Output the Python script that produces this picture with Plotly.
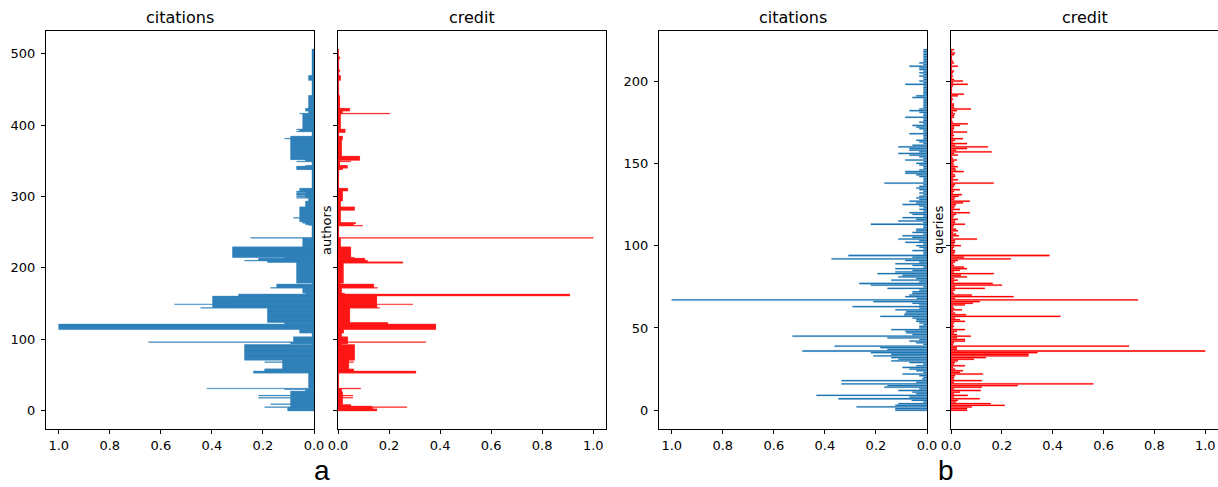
import numpy as np
import plotly.graph_objects as go

# ---------------- Panel a: authors (run-length encoded: run start index, value) ----------------
N_AUTHORS = 507
a_cit_start = [0, 5, 6, 9, 10, 18, 19, 21, 22, 28, 30, 31, 32, 53, 56, 59, 68, 69, 71, 93, 94, 96, 97,
               104, 109, 114, 122, 124, 144, 145, 149, 150, 161, 164, 165, 172, 173, 178, 179, 208, 210,
               211, 214, 215, 230, 242, 243, 260, 261, 263, 265, 270, 271, 286, 294, 298, 299, 300, 301,
               302, 305, 306, 308, 312, 338, 343, 344, 349, 350, 352, 381, 382, 385, 391, 392, 394, 395,
               416, 417, 420, 424, 442, 463, 470]
a_cit_value = [0.103, 0.193, 0.0915, 0.17, 0.0915, 0.217, 0.0915, 0.217, 0.0915, 0.033, 0.115, 0.42, 0.021,
               0.237, 0.193, 0.123, 0.193, 0.123, 0.272, 0.008, 0.0915, 0.648, 0.08,
               0.008, 0.056, 1.0, 0.115, 0.182, 0.444, 0.397, 0.546, 0.397, 0.295, 0.033, 0.044, 0.17,
               0.146, 0.008, 0.068, 0.182, 0.272,
               0.217, 0.115, 0.319, 0.044, 0.248, 0.008, 0.021, 0.033, 0.044, 0.056, 0.08, 0.056, 0.033,
               0.021, 0.068, 0.033, 0.068, 0.033,
               0.068, 0.033, 0.068, 0.056, 0.008, 0.068, 0.033, 0.008, 0.068, 0.033, 0.0915, 0.115,
               0.0915, 0.008, 0.068, 0.056, 0.068, 0.044,
               0.056, 0.021, 0.033, 0.021, 0.008, 0.021, 0.008]

a_cred_start = [0, 3, 5, 6, 7, 9, 18, 19, 21, 22, 27, 31, 32, 53, 56, 59, 68, 69, 71, 93, 94, 96, 97,
                104, 109, 114, 122, 124, 144, 145, 149, 150, 161, 164, 165, 172, 173, 178, 179, 207, 209,
                211, 214, 215, 230, 242, 243, 259, 260, 262, 264, 281, 286, 294, 308, 312, 338, 340, 344,
                349, 350, 351, 357, 380, 385, 390, 395, 416, 417, 420, 424, 442, 463, 470, 475, 478, 493, 496]
a_cred_value = [0.152, 0.136, 0.27, 0.132, 0.05, 0.018, 0.058, 0.018, 0.058, 0.018, 0.014, 0.089, 0.003,
                0.305, 0.061, 0.042, 0.061, 0.042, 0.065, 0.014, 0.038, 0.344, 0.038,
                0.014, 0.022, 0.383, 0.195, 0.046, 0.163, 0.152, 0.293, 0.152, 0.908, 0.026, 0.014, 0.155,
                0.14, 0.01, 0.021, 0.254, 0.116,
                0.105, 0.065, 0.05, 0.01, 1.0, 0.003, 0.097, 0.06, 0.069, 0.01, 0.065, 0.01, 0.018, 0.038,
                0.003, 0.018, 0.037, 0.007,
                0.05, 0.007, 0.085, 0.014, 0.018, 0.003, 0.028, 0.01, 0.203, 0.017, 0.046, 0.007, 0.003,
                0.01, 0.003, 0.007, 0.003, 0.007, 0.002]

# ---------------- Panel b: queries (one value per query, index 0..219) ----------------
b_citations = [
    0.124, 0.124, 0.276, 0.124, 0.112, 0.014, 0.06, 0.347, 0.069, 0.433,
    0.042, 0.057, 0.112, 0.03, 0.167, 0.155, 0.335, 0.042, 0.335, 0.02,
    0.014, 0.03, 0.096, 0.014, 0.042, 0.069, 0.096, 0.042, 0.014, 0.069,
    0.14, 0.112, 0.14, 0.21, 0.14, 0.22, 0.488, 0.155, 0.183, 0.362,
    0.014, 0.042, 0.069, 0.03, 0.155, 0.527, 0.057, 0.081, 0.085, 0.14,
    0.03, 0.03, 0.014, 0.03, 0.042, 0.042, 0.057, 0.183, 0.09, 0.085,
    0.081, 0.124, 0.03, 0.292, 0.03, 0.057, 0.21, 1.0, 0.04, 0.085,
    0.069, 0.057, 0.057, 0.03, 0.155, 0.014, 0.22, 0.265, 0.03, 0.14,
    0.042, 0.112, 0.096, 0.194, 0.124, 0.057, 0.124, 0.014, 0.057, 0.124,
    0.03, 0.085, 0.374, 0.057, 0.308, 0.014, 0.014, 0.057, 0.014, 0.03,
    0.042, 0.014, 0.085, 0.03, 0.112, 0.057, 0.096, 0.014, 0.057, 0.042,
    0.042, 0.014, 0.014, 0.22, 0.014, 0.112, 0.042, 0.096, 0.014, 0.057,
    0.069, 0.014, 0.03, 0.014, 0.03, 0.096, 0.042, 0.069, 0.03, 0.042,
    0.03, 0.014, 0.03, 0.014, 0.03, 0.042, 0.03, 0.014, 0.167, 0.014,
    0.014, 0.014, 0.03, 0.042, 0.085, 0.085, 0.03, 0.014, 0.014, 0.03,
    0.042, 0.014, 0.085, 0.014, 0.03, 0.069, 0.112, 0.03, 0.069, 0.069,
    0.112, 0.057, 0.014, 0.03, 0.042, 0.014, 0.014, 0.014, 0.069, 0.014,
    0.014, 0.03, 0.042, 0.057, 0.014, 0.03, 0.014, 0.014, 0.085, 0.014,
    0.014, 0.03, 0.069, 0.03, 0.014, 0.014, 0.014, 0.014, 0.014, 0.014,
    0.057, 0.042, 0.014, 0.014, 0.014, 0.014, 0.014, 0.014, 0.085, 0.014,
    0.03, 0.014, 0.014, 0.03, 0.014, 0.03, 0.014, 0.03, 0.03, 0.069,
    0.014, 0.03, 0.014, 0.014, 0.014, 0.014, 0.014, 0.014, 0.014, 0.014,
]
b_credit = [
    0.063, 0.063, 0.082, 0.211, 0.156, 0.02, 0.027, 0.113, 0.012, 0.066,
    0.012, 0.035, 0.117, 0.012, 0.121, 0.262, 0.56, 0.012, 0.121, 0.012,
    0.012, 0.016, 0.125, 0.035, 0.047, 0.016, 0.008, 0.055, 0.012, 0.016,
    0.027, 0.09, 0.137, 0.305, 0.305, 0.34, 1.0, 0.023, 0.023, 0.70,
    0.008, 0.012, 0.055, 0.055, 0.023, 0.078, 0.023, 0.012, 0.023, 0.055,
    0.008, 0.012, 0.008, 0.012, 0.055, 0.035, 0.016, 0.43, 0.059, 0.016,
    0.008, 0.043, 0.012, 0.008, 0.055, 0.086, 0.113, 0.735, 0.016, 0.246,
    0.082, 0.012, 0.008, 0.016, 0.133, 0.016, 0.2, 0.164, 0.012, 0.027,
    0.012, 0.063, 0.039, 0.168, 0.012, 0.035, 0.063, 0.051, 0.012, 0.008,
    0.016, 0.027, 0.235, 0.051, 0.387, 0.012, 0.016, 0.016, 0.008, 0.012,
    0.039, 0.012, 0.016, 0.016, 0.102, 0.008, 0.031, 0.02, 0.008, 0.027,
    0.02, 0.008, 0.012, 0.055, 0.016, 0.016, 0.027, 0.008, 0.012, 0.02,
    0.074, 0.008, 0.035, 0.012, 0.016, 0.02, 0.047, 0.074, 0.012, 0.016,
    0.031, 0.043, 0.008, 0.012, 0.035, 0.008, 0.012, 0.016, 0.168, 0.008,
    0.027, 0.008, 0.016, 0.016, 0.008, 0.05, 0.02, 0.016, 0.027, 0.012,
    0.008, 0.012, 0.023, 0.008, 0.004, 0.027, 0.012, 0.16, 0.02, 0.063,
    0.145, 0.016, 0.063, 0.008, 0.016, 0.047, 0.008, 0.012, 0.008, 0.063,
    0.008, 0.012, 0.012, 0.035, 0.066, 0.008, 0.004, 0.004, 0.012, 0.012,
    0.016, 0.008, 0.023, 0.078, 0.012, 0.012, 0.012, 0.004, 0.004, 0.008,
    0.004, 0.027, 0.051, 0.004, 0.004, 0.004, 0.004, 0.008, 0.066, 0.008,
    0.047, 0.012, 0.004, 0.008, 0.004, 0.008, 0.012, 0.004, 0.004, 0.027,
    0.004, 0.012, 0.008, 0.004, 0.004, 0.004, 0.012, 0.016, 0.004, 0.012,
]

x_tick_vals = [0.0, 0.2, 0.4, 0.6, 0.8, 1.0]
x_tick_text = ["0.0", "0.2", "0.4", "0.6", "0.8", "1.0"]
a_y_ticks = [0, 100, 200, 300, 400, 500]
b_y_ticks = [0, 50, 100, 150, 200]
panel_titles = ["citations", "credit", "citations", "credit"]


def expand(starts, values, n):
    lengths = np.diff(np.array(starts + [n]))
    return np.repeat(np.array(values), lengths)


a_cit = expand(a_cit_start, a_cit_value, N_AUTHORS)
a_cred = expand(a_cred_start, a_cred_value, N_AUTHORS)
a_idx = np.arange(N_AUTHORS)
b_idx = np.arange(len(b_citations))

BLUE = "#1f77b4"
RED = "#ff0000"
FONT = "DejaVu Sans"

fig = go.Figure()


def add_bars(vals, idx, color, xa, ya, bw, lw):
    fig.add_trace(go.Bar(
        x=vals, y=idx, orientation="h", width=bw,
        marker=dict(color=color, line=dict(color=color, width=lw)),
        xaxis=xa, yaxis=ya, showlegend=False, hoverinfo="x+y",
    ))


add_bars(a_cit, a_idx, BLUE, "x", "y", 1.0, 0.3)
add_bars(a_cred, a_idx, RED, "x2", "y2", 1.0, 0.3)
add_bars(b_citations, b_idx, BLUE, "x3", "y3", 0.8, 0.2)
add_bars(b_credit, b_idx, RED, "x4", "y4", 0.8, 0.2)

W, H = 1218, 487
x_doms = [(46, 314), (338, 606), (659, 927), (951, 1218)]
y_dom = [(H - 429) / H, (H - 31) / H]

common_axis = dict(
    showline=True, mirror=True, linecolor="black", linewidth=1.2,
    ticks="outside", ticklen=4, tickwidth=1, tickcolor="black",
    showgrid=False, zeroline=False, automargin=False,
    tickfont=dict(family=FONT, size=13, color="black"),
)

a_yrange = [-25.74, N_AUTHORS - 1 + 0.4 + 25.34]
nb = len(b_citations)
b_span = (nb - 1) + 0.8
b_yrange = [-0.4 - 0.05 * b_span, nb - 1 + 0.4 + 0.05 * b_span]

layout = dict(
    width=W, height=H, margin=dict(l=0, r=0, t=0, b=0, autoexpand=False),
    plot_bgcolor="white", paper_bgcolor="white", barmode="overlay",
)
for k, (x0, x1) in enumerate(x_doms):
    xn = "xaxis" if k == 0 else f"xaxis{k + 1}"
    yn = "yaxis" if k == 0 else f"yaxis{k + 1}"
    reverse = k in (0, 2)
    layout[xn] = dict(
        common_axis, domain=[x0 / W, min(x1 / W, 1.0)],
        range=[1.05, 0] if reverse else [0, 1.05],
        tickvals=x_tick_vals, ticktext=x_tick_text, anchor="y" if k == 0 else f"y{k + 1}",
    )
    is_a = k < 2
    layout[yn] = dict(
        common_axis, domain=y_dom,
        range=a_yrange if is_a else b_yrange,
        tickvals=a_y_ticks if is_a else b_y_ticks,
        showticklabels=(k in (0, 2)), ticklabelstandoff=3,
        anchor="x" if k == 0 else f"x{k + 1}",
    )
fig.update_layout(**layout)

annotations = []
for k, (x0, x1) in enumerate(x_doms):
    annotations.append(dict(
        text=panel_titles[k], x=((x0 + min(x1, 1219)) / 2) / W, y=(H - 17) / H,
        xref="paper", yref="paper", showarrow=False, xanchor="center", yanchor="middle",
        font=dict(family=FONT, size=16, color="black"),
    ))
annotations.append(dict(text="authors", x=326 / W, y=(H - 230) / H, xref="paper", yref="paper",
                        showarrow=False, textangle=-90, xanchor="center", yanchor="middle",
                        font=dict(family=FONT, size=13, color="black")))
annotations.append(dict(text="queries", x=938 / W, y=(H - 230) / H, xref="paper", yref="paper",
                        showarrow=False, textangle=-90, xanchor="center", yanchor="middle",
                        font=dict(family=FONT, size=13, color="black")))
annotations.append(dict(text="a", x=322 / W, y=0, xref="paper", yref="paper",
                        showarrow=False, xanchor="center", yanchor="bottom", borderpad=0,
                        font=dict(family="Liberation Sans", size=28, color="black")))
annotations.append(dict(text="b", x=946 / W, y=0, xref="paper", yref="paper",
                        showarrow=False, xanchor="center", yanchor="bottom", borderpad=0,
                        font=dict(family="Liberation Sans", size=28, color="black")))
fig.update_layout(annotations=annotations)

fig.write_html(
    "out.html",
    config={"displayModeBar": False},
    post_script="document.body.style.margin='0';document.body.style.padding='0';document.body.style.overflow='hidden';",
)
